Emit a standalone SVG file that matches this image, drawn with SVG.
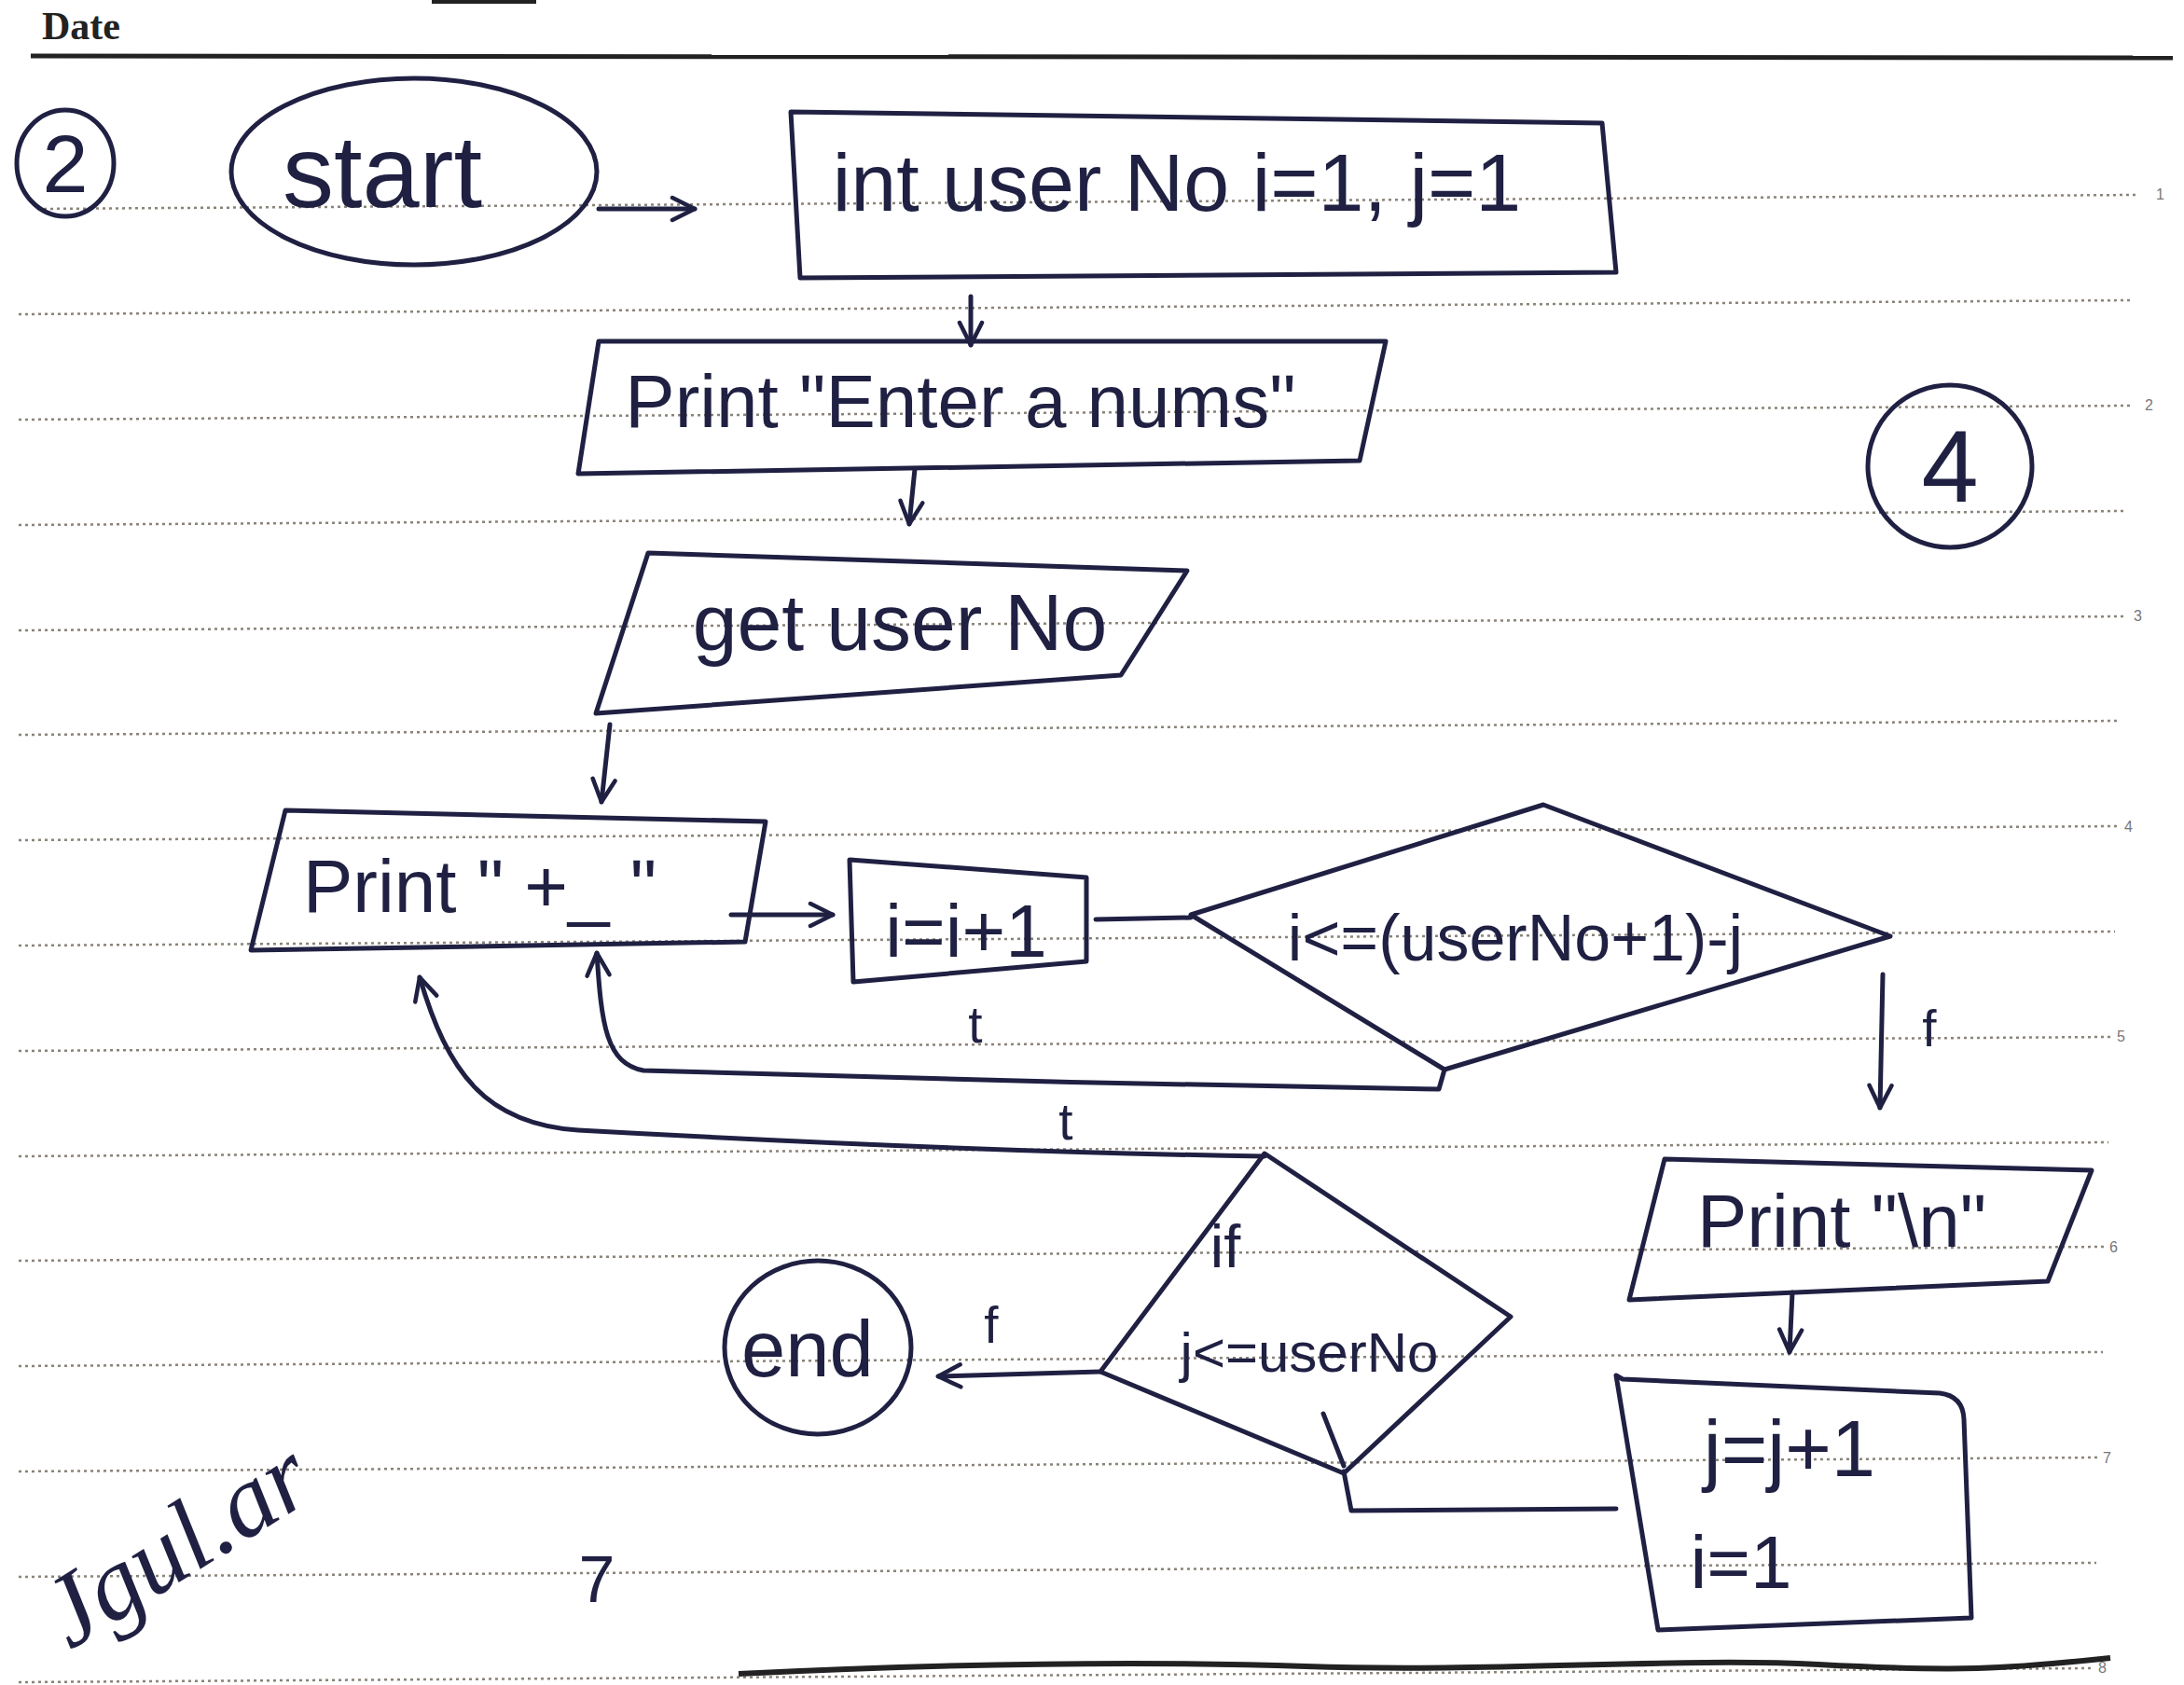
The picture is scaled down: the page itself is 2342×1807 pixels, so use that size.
<svg xmlns="http://www.w3.org/2000/svg" width="2342" height="1807" viewBox="0 0 2342 1807">
<style>
.ink{fill:none;stroke:#1f2042;stroke-width:5;stroke-linejoin:round;stroke-linecap:round}
.rule{stroke:#8a8378;stroke-width:2.5;stroke-dasharray:3 4}
.num{font-family:"Liberation Sans",sans-serif;font-size:16px;fill:#777}
.t{font-family:"Liberation Sans",sans-serif;fill:#1f2042;text-anchor:middle}
.ts{font-family:"Liberation Sans",sans-serif;fill:#1f2042;text-anchor:start}
.lbl{font-family:"Liberation Sans",sans-serif;fill:#1f2042;font-size:55px;text-anchor:middle}
</style>
<defs>
<marker id="arr" viewBox="0 0 20 20" refX="18" refY="10" markerWidth="30" markerHeight="30" markerUnits="userSpaceOnUse" orient="auto">
<path d="M2,2 L18,10 L2,18" fill="none" stroke="#1f2042" stroke-width="3" stroke-linecap="round" stroke-linejoin="round"/>
</marker>
</defs>
<rect width="2342" height="1807" fill="#ffffff"/>
<g id="paper">
<text x="45" y="42" font-family="Liberation Serif,serif" font-size="42" font-weight="bold" fill="#222">Date</text>
<line x1="463" y1="2" x2="575" y2="2" stroke="#222" stroke-width="4"/>
<path d="M33,60 Q1200,66 2330,62" fill="none" stroke="#222" stroke-width="5"/>
<line class="rule" x1="40" y1="224" x2="2290" y2="209"/>
<line class="rule" x1="20" y1="337" x2="2287" y2="322"/>
<line class="rule" x1="20" y1="450" x2="2284" y2="435"/>
<line class="rule" x1="20" y1="563" x2="2280" y2="548"/>
<line class="rule" x1="20" y1="676" x2="2277" y2="661"/>
<line class="rule" x1="20" y1="788" x2="2274" y2="773"/>
<line class="rule" x1="20" y1="901" x2="2271" y2="886"/>
<line class="rule" x1="20" y1="1014" x2="2268" y2="999"/>
<line class="rule" x1="20" y1="1127" x2="2264" y2="1112"/>
<line class="rule" x1="20" y1="1240" x2="2261" y2="1225"/>
<line class="rule" x1="20" y1="1352" x2="2258" y2="1337"/>
<line class="rule" x1="20" y1="1465" x2="2255" y2="1450"/>
<line class="rule" x1="20" y1="1578" x2="2252" y2="1563"/>
<line class="rule" x1="20" y1="1691" x2="2248" y2="1676"/>
<line class="rule" x1="20" y1="1804" x2="2245" y2="1789"/>
<text class="num" x="2312" y="214">1</text>
<text class="num" x="2300" y="440">2</text>
<text class="num" x="2288" y="666">3</text>
<text class="num" x="2278" y="892">4</text>
<text class="num" x="2270" y="1117">5</text>
<text class="num" x="2262" y="1343">6</text>
<text class="num" x="2255" y="1569">7</text>
<text class="num" x="2250" y="1794">8</text>
<path d="M792,1795 C1000,1785 1200,1780 1400,1787 S1800,1777 1950,1785 S2150,1790 2263,1778" fill="none" stroke="#222" stroke-width="6"/>
</g>
<g id="label-2">
<ellipse class="ink" cx="70" cy="175" rx="52" ry="57"/>
<text class="t" x="70" y="206" font-size="88">2</text>
</g>
<g id="label-4">
<ellipse class="ink" cx="2091" cy="500" rx="88" ry="87"/>
<text class="t" x="2091" y="538" font-size="110">4</text>
</g>
<g id="start">
<ellipse class="ink" cx="444" cy="184" rx="196" ry="100"/>
<text class="t" x="410" y="222" font-size="110">start</text>
</g>
<g id="init">
<polygon class="ink" points="848,120 1718,132 1733,292 858,298"/>
<text class="t" x="1262" y="226" font-size="88">int user No i=1, j=1</text>
</g>
<g id="print-enter">
<polygon class="ink" points="642,366 1486,366 1458,494 620,508"/>
<text class="t" x="1030" y="458" font-size="80">Print "Enter a nums"</text>
</g>
<g id="get-userno">
<polygon class="ink" points="695,593 1273,612 1202,724 639,765"/>
<text class="t" x="965" y="697" font-size="86">get user No</text>
</g>
<g id="print-plus">
<polygon class="ink" points="306,869 821,881 799,1010 269,1019"/>
<text class="ts" x="325" y="978" font-size="80">Print " +_ "</text>
</g>
<g id="inc-i">
<polygon class="ink" points="911,922 1165,941 1165,1031 915,1053"/>
<text class="t" x="1036" y="1026" font-size="80">i=i+1</text>
</g>
<g id="cond-i">
<polygon class="ink" points="1277,981 1655,863 2027,1004 1549,1147"/>
<text class="t" x="1625" y="1030" font-size="70">i&lt;=(userNo+1)-j</text>
</g>
<g id="print-newline">
<polygon class="ink" points="1785,1243 2243,1255 2196,1374 1747,1394"/>
<text class="t" x="1975" y="1337" font-size="80">Print "\n"</text>
</g>
<g id="inc-j">
<path class="ink" d="M1740,1479 L2080,1494 Q2105,1497 2106,1522 L2114,1735 L1778,1748 L1733,1475 Z"/>
<text class="t" x="1919" y="1583" font-size="85">j=j+1</text>
<text class="t" x="1867" y="1703" font-size="80">i=1</text>
</g>
<g id="cond-j">
<polygon class="ink" points="1356,1237 1620,1412 1441,1580 1180,1471"/>
<path class="ink" d="M1419,1516 L1441,1572"/>
<text class="t" x="1314" y="1359" font-size="65">if</text>
<text class="t" x="1404" y="1471" font-size="60">j&lt;=userNo</text>
</g>
<g id="end">
<ellipse class="ink" cx="877" cy="1445" rx="100" ry="93"/>
<text class="t" x="866" y="1476" font-size="85">end</text>
</g>
<g id="connectors">
<path class="ink" d="M642,224 L745,224" marker-end="url(#arr)"/>
<path class="ink" d="M1041,318 L1041,370" marker-end="url(#arr)"/>
<path class="ink" d="M981,503 L975,562" marker-end="url(#arr)"/>
<path class="ink" d="M654,777 L645,860" marker-end="url(#arr)"/>
<path class="ink" d="M784,981 L893,981" marker-end="url(#arr)"/>
<path class="ink" d="M1175,986 L1277,984"/>
<path class="ink" d="M1549,1147 L1543,1168 C1300,1165 900,1155 690,1148 C650,1140 645,1100 640,1022" marker-end="url(#arr)"/>
<path class="ink" d="M2019,1045 L2016,1188" marker-end="url(#arr)"/>
<path class="ink" d="M1922,1386 L1919,1450" marker-end="url(#arr)"/>
<path class="ink" d="M1733,1618 L1449,1620 L1441,1578"/>
<path class="ink" d="M1356,1240 C1100,1236 800,1222 620,1212 C520,1205 480,1150 450,1048" marker-end="url(#arr)"/>
<path class="ink" d="M1180,1471 L1006,1476" marker-end="url(#arr)"/>
<text class="lbl" x="1046" y="1118">t</text>
<text class="lbl" x="2069" y="1122">f</text>
<text class="lbl" x="1143" y="1222">t</text>
<text class="lbl" x="1063" y="1440">f</text>
</g>
<g id="notes">
<text x="75" y="1770" transform="rotate(-32 75 1770)" font-family="Liberation Serif,serif" font-style="italic" font-size="110" fill="#1f2042">Jgul.ar</text>
<text class="t" x="640" y="1718" font-size="70">7</text>
</g>
</svg>
